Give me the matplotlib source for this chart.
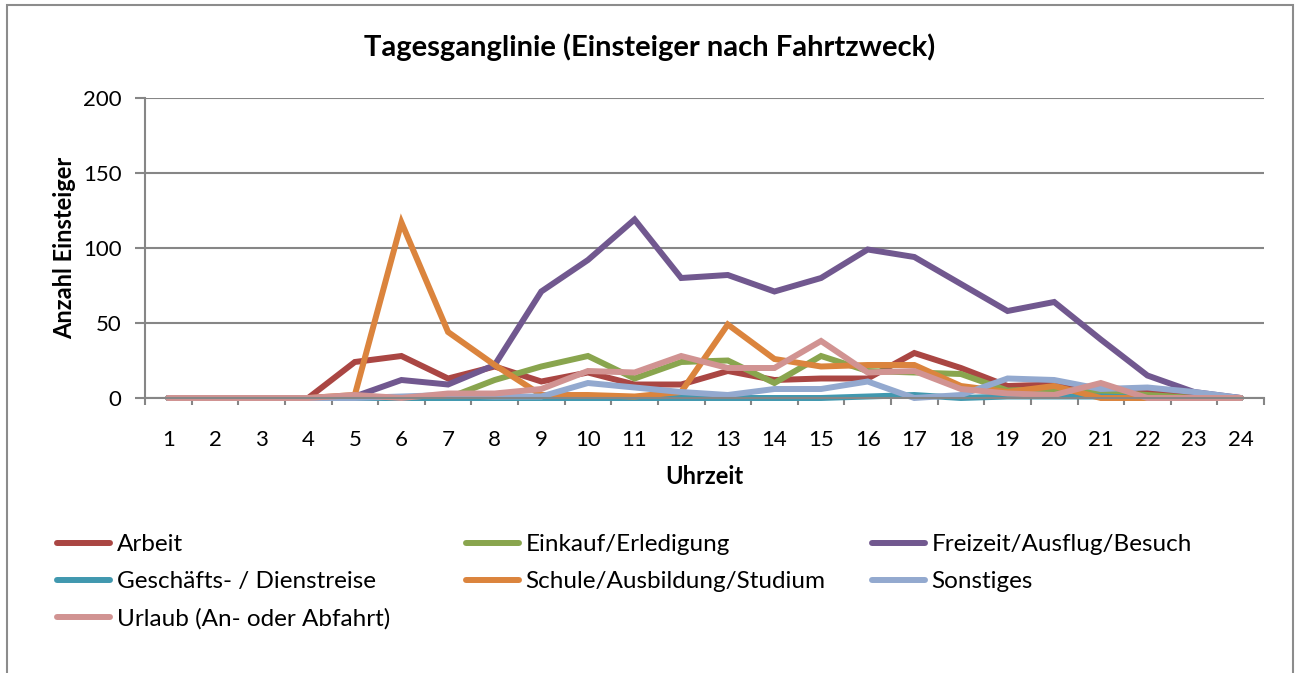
import matplotlib
matplotlib.use("Agg")
import matplotlib.pyplot as plt
from matplotlib.patches import Rectangle

plt.rcParams['font.family'] = ['Lato', 'DejaVu Sans']

# Uhrzeit 1..24
hours = list(range(1, 25))

arbeit = [0, 0, 0, 0, 24, 28, 13, 21, 11, 17, 9, 9, 18, 12, 13, 13, 30, 20, 8, 9, 6, 4, 2, 0]
einkauf = [0, 0, 0, 0, 0, 0, 0, 12, 21, 28, 13, 24, 25, 10, 28, 18, 17, 16, 5, 6, 4, 2, 0, 0]
freizeit = [0, 0, 0, 0, 1, 12, 9, 22, 71, 92, 119, 80, 82, 71, 80, 99, 94, 76, 58, 64, 39, 15, 4, 0]
geschaeft = [0, 0, 0, 0, 0, 0, 0, 0, 0, 0, 0, 0, 0, 0, 0, 1, 2, 0, 1, 1, 1, 0, 0, 0]
schule = [0, 0, 0, 0, 2, 117, 44, 22, 2, 2, 1, 4, 49, 26, 21, 22, 22, 8, 4, 8, 0, 0, 0, 0]
sonstiges = [0, 0, 0, 0, 0, 1, 2, 1, 1, 10, 7, 4, 2, 6, 6, 11, 0, 2, 13, 12, 6, 7, 4, 0]
urlaub = [0, 0, 0, 0, 2, 0, 3, 3, 6, 18, 17, 28, 20, 20, 38, 17, 18, 6, 3, 2, 10, 0, 0, 0]

series_names = ["Arbeit", "Einkauf/Erledigung", "Freizeit/Ausflug/Besuch",
                "Geschäfts- / Dienstreise", "Schule/Ausbildung/Studium",
                "Sonstiges", "Urlaub (An- oder Abfahrt)"]
series_vals = [arbeit, einkauf, freizeit, geschaeft, schule, sonstiges, urlaub]
colors = ["#AA4643", "#89A54E", "#71588F", "#4198AF", "#DB843D", "#93A9CF", "#D19392"]

W, H = 1298, 673
fig = plt.figure(figsize=(W / 100, H / 100), dpi=100)

# chart border (bottom edge runs off the picture)
fig.add_artist(Rectangle((7 / W, -0.05), (1293 - 7) / W, 1.05 - 5 / H, transform=fig.transFigure,
                         fill=False, edgecolor="#8c8c8c", linewidth=1.5))

ax = fig.add_axes([145 / W, (H - 398) / H, (1264 - 145) / W, 300 / H])

lines = []
for name, vals, c in zip(series_names, series_vals, colors):
    ln, = ax.plot(hours, vals, color=c, linewidth=4.3, solid_capstyle="round",
                  solid_joinstyle="miter", label=name, clip_on=False)
    lines.append(ln)

ax.set_xlim(0.5, 24.5)
ax.set_ylim(0, 200)
ax.set_yticks([0, 50, 100, 150, 200])
ax.set_xticks(hours)
ax.set_xticks([h + 0.5 for h in range(0, 25)], minor=True)
ax.grid(axis="y", color="#868686", linewidth=1.5)
ax.set_axisbelow(True)
for s in ["top", "right"]:
    ax.spines[s].set_visible(False)
for s in ["left", "bottom"]:
    ax.spines[s].set_color("#868686")
    ax.spines[s].set_linewidth(1.5)
ax.tick_params(axis="y", length=7, width=1.5, color="#868686", labelsize=16, pad=10)
ax.tick_params(axis="x", which="major", length=0, labelsize=16, pad=23)
ax.tick_params(axis="x", which="minor", length=5, width=1.5, color="#868686")

ax.set_xlabel("Uhrzeit", fontsize=17, fontweight="bold", labelpad=11)
ax.set_ylabel("Anzahl Einsteiger", fontsize=17, fontweight="bold", labelpad=5)
fig.text(650 / W, 1 - 47 / H, "Tagesganglinie (Einsteiger nach Fahrtzweck)",
         ha="center", va="center", fontsize=21, fontweight="bold")

# legend, three columns filled row-wise like Excel
col_x = [57, 466, 872]
for ci, x0 in enumerate(col_x):
    idx = list(range(ci, len(lines), 3))
    fig.legend([lines[i] for i in idx], [series_names[i] for i in idx],
               loc="upper left", bbox_to_anchor=(x0 / W, 1 - 534 / H),
               frameon=False, fontsize=17.5, handlelength=2.2, handletextpad=0.25,
               labelspacing=0.66, borderaxespad=0, borderpad=0)

fig.savefig("out.png", dpi=100)
